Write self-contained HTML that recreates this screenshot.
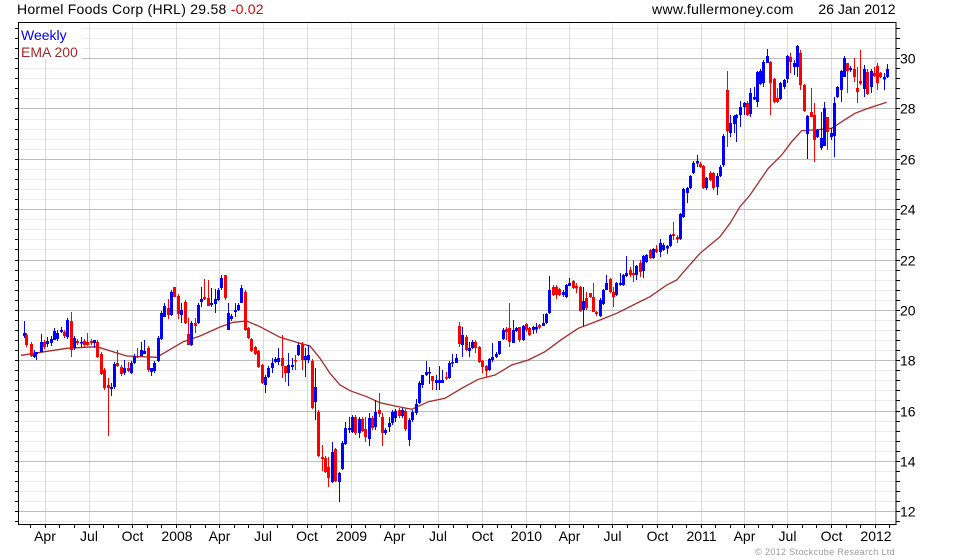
<!DOCTYPE html>
<html><head><meta charset="utf-8"><style>
html,body{margin:0;padding:0;background:#fff;}
svg{display:block;}
text{font-family:"Liberation Sans",Arial,sans-serif;}
</style></head><body>
<svg width="980" height="560" viewBox="0 0 980 560" xmlns="http://www.w3.org/2000/svg">
<rect x="0" y="0" width="980" height="560" fill="#fff"/>
<!-- minor horizontal grid -->
<path stroke="#ebebeb" stroke-width="1" shape-rendering="crispEdges" fill="none" d="M18 521.5H896M18 501.5H896M18 491.5H896M18 481.5H896M18 471.5H896M18 451.5H896M18 441.5H896M18 431.5H896M18 421.5H896M18 400.5H896M18 390.5H896M18 380.5H896M18 370.5H896M18 350.5H896M18 340.5H896M18 330.5H896M18 320.5H896M18 300.5H896M18 290.5H896M18 280.5H896M18 270.5H896M18 249.5H896M18 239.5H896M18 229.5H896M18 219.5H896M18 199.5H896M18 189.5H896M18 179.5H896M18 169.5H896M18 149.5H896M18 139.5H896M18 129.5H896M18 119.5H896M18 98.5H896M18 88.5H896M18 78.5H896M18 68.5H896M18 48.5H896M18 38.5H896M18 28.5H896"/>
<!-- vertical grid -->
<path stroke="#d9d9d9" stroke-width="1" shape-rendering="crispEdges" fill="none" d="M45.5 23V524M89.5 23V524M132.5 23V524M176.5 23V524M219.5 23V524M263.5 23V524M307.5 23V524M351.5 23V524M394.5 23V524M438.5 23V524M482.5 23V524M526.5 23V524M569.5 23V524M612.5 23V524M657.5 23V524M701.5 23V524M744.5 23V524M787.5 23V524M831.5 23V524M875.5 23V524"/>
<!-- major horizontal grid -->
<path stroke="#bdbdbd" stroke-width="1" shape-rendering="crispEdges" fill="none" d="M18 511.5H896M18 461.5H896M18 411.5H896M18 360.5H896M18 310.5H896M18 260.5H896M18 209.5H896M18 159.5H896M18 108.5H896M18 58.5H896"/>
<!-- legend box -->
<rect x="19" y="23" width="63" height="36" fill="#fff"/>
<!-- axis frame -->
<rect x="18.5" y="22.5" width="877.5" height="502" fill="none" stroke="#000" stroke-width="1" shape-rendering="crispEdges"/>
<!-- left ticks -->
<path stroke="#000" stroke-width="1" shape-rendering="crispEdges" fill="none" d="M15 521.5H18M15 511.5H18M15 501.5H18M15 491.5H18M15 481.5H18M15 471.5H18M15 461.5H18M15 451.5H18M15 441.5H18M15 431.5H18M15 421.5H18M15 411.5H18M15 400.5H18M15 390.5H18M15 380.5H18M15 370.5H18M15 360.5H18M15 350.5H18M15 340.5H18M15 330.5H18M15 320.5H18M15 310.5H18M15 300.5H18M15 290.5H18M15 280.5H18M15 270.5H18M15 260.5H18M15 249.5H18M15 239.5H18M15 229.5H18M15 219.5H18M15 209.5H18M15 199.5H18M15 189.5H18M15 179.5H18M15 169.5H18M15 159.5H18M15 149.5H18M15 139.5H18M15 129.5H18M15 119.5H18M15 108.5H18M15 98.5H18M15 88.5H18M15 78.5H18M15 68.5H18M15 58.5H18M15 48.5H18M15 38.5H18M15 28.5H18"/>
<!-- right ticks -->
<path stroke="#000" stroke-width="1" shape-rendering="crispEdges" fill="none" d="M896 521.5H900M896 511.5H900M896 501.5H900M896 491.5H900M896 481.5H900M896 471.5H900M896 461.5H900M896 451.5H900M896 441.5H900M896 431.5H900M896 421.5H900M896 411.5H900M896 400.5H900M896 390.5H900M896 380.5H900M896 370.5H900M896 360.5H900M896 350.5H900M896 340.5H900M896 330.5H900M896 320.5H900M896 310.5H900M896 300.5H900M896 290.5H900M896 280.5H900M896 270.5H900M896 260.5H900M896 249.5H900M896 239.5H900M896 229.5H900M896 219.5H900M896 209.5H900M896 199.5H900M896 189.5H900M896 179.5H900M896 169.5H900M896 159.5H900M896 149.5H900M896 139.5H900M896 129.5H900M896 119.5H900M896 108.5H900M896 98.5H900M896 88.5H900M896 78.5H900M896 68.5H900M896 58.5H900M896 48.5H900M896 38.5H900M896 28.5H900"/>
<!-- bottom month ticks -->
<path stroke="#000" stroke-width="1" shape-rendering="crispEdges" fill="none" d="M30.5 525V528M45.5 525V528M59.5 525V528M74.5 525V528M89.5 525V528M103.5 525V528M118.5 525V528M132.5 525V528M147.5 525V528M161.5 525V528M176.5 525V528M190.5 525V528M205.5 525V528M219.5 525V528M234.5 525V528M248.5 525V528M263.5 525V528M277.5 525V528M292.5 525V528M307.5 525V528M321.5 525V528M336.5 525V528M351.5 525V528M365.5 525V528M380.5 525V528M394.5 525V528M409.5 525V528M423.5 525V528M438.5 525V528M453.5 525V528M467.5 525V528M482.5 525V528M497.5 525V528M511.5 525V528M526.5 525V528M540.5 525V528M555.5 525V528M569.5 525V528M583.5 525V528M598.5 525V528M612.5 525V528M627.5 525V528M642.5 525V528M657.5 525V528M672.5 525V528M686.5 525V528M701.5 525V528M715.5 525V528M730.5 525V528M744.5 525V528M758.5 525V528M772.5 525V528M787.5 525V528M802.5 525V528M816.5 525V528M831.5 525V528M846.5 525V528M860.5 525V528M875.5 525V528M889.5 525V528"/>

<!-- EMA 200 -->
<polyline fill="none" stroke="#a52a2a" stroke-width="1.3" points="21,355.3 66.7,348.3 96.7,346.7 126.7,356 156.7,357.3 183.3,341.7 200,336 220,327 233.3,322.3 246.7,321 260,326.7 280,337.3 300,343.3 310,346 320,358.3 330,373.3 340,385 350,390.7 366.7,396.7 380,402.7 395,406 411.7,409.3 428.3,401.7 445,398.3 461.7,388.3 478.3,379.3 495,375 511.7,365 528.3,360 545,351.7 561.7,339.3 578.3,328.3 600,320 616.7,313.3 633.3,305 650,296.7 666.7,285 676.7,280 686.7,268.3 700,253.3 710,245 720,236.7 730,223.3 740,206.7 750,195 768.3,168.3 781.7,155 791.7,141.7 801.7,130.7 811.7,130 821.7,129.3 831.7,128.3 841.7,121.7 855,113.3 868.3,108.3 878.3,105 886.7,102.3"/>

<!-- blue wicks -->
<path stroke="#0000ff" stroke-width="1" fill="none" shape-rendering="crispEdges" d="M24.5 321V338M34.5 350V358M36.5 352V360M41.5 334V352M47.5 337V347M51.5 336V346M54.5 328V340M57.5 330V341M61.5 327V333M67.5 318V339M74.5 336V350M81.5 337V347M94.5 340V348M111.5 383V396M114.5 362V389M124.5 360V375M131.5 361V374M134.5 354V364M141.5 342V356M144.5 340V354M151.5 368V376M154.5 361V373M158.5 336V362M161.5 311V340M164.5 303V317M171.5 290V316M181.5 303V323M191.5 321V346M198.5 303V324M201.5 287V307M211.5 288V307M215.5 289V313M218.5 288V301M221.5 275V290M228.5 303V330M231.5 314V321M235.5 303V317M238.5 303V311M241.5 285V303M265.5 375V393M268.5 366V378M272.5 358V373M275.5 357V363M278.5 348V365M288.5 353V386M292.5 358V370M298.5 343V356M305.5 348V377M308.5 345V363M315.5 368V420M332.5 442V483M339.5 472V502M342.5 441V470M345.5 422V445M349.5 417V433M352.5 415V433M359.5 417V438M369.5 413V446M375.5 400V430M385.5 428V435M389.5 417V432M392.5 410V425M395.5 409V422M402.5 408V418M409.5 418V446M412.5 410V422M416.5 399V415M419.5 381V404M422.5 375V388M426.5 361V376M429.5 367V384M436.5 375V390M439.5 366V390M442.5 370V383M449.5 361V379M452.5 354V367M456.5 354V363M462.5 327V357M469.5 342V357M472.5 340V349M489.5 358V371M492.5 343V362M496.5 352V358M499.5 341V355M503.5 328V340M513.5 320V343M516.5 327V332M523.5 325V341M533.5 326V334M536.5 323V333M543.5 314V326M546.5 313V324M549.5 276V314M563.5 290V297M566.5 284V298M569.5 278V286M583.5 287V326M600.5 298V317M603.5 289V305M606.5 275V290M616.5 282V296M620.5 273V286M623.5 274V286M626.5 256V277M636.5 265V280M643.5 255V278M646.5 254V263M653.5 248V259M660.5 239V257M663.5 243V251M667.5 245V254M670.5 234V247M680.5 213V240M683.5 188V218M687.5 187V203M690.5 175V189M693.5 161V174M697.5 155V167M706.5 177V190M717.5 173V195M720.5 165V177M723.5 134V167M730.5 115V137M734.5 115V133M736.5 114V142M740.5 101V127M744.5 102V115M750.5 88V117M754.5 87V100M757.5 71V107M760.5 69V85M763.5 60V87M767.5 49V63M780.5 82V100M784.5 79V89M787.5 55V83M794.5 60V75M797.5 45V77M807.5 115V159M817.5 129V138M821.5 112V150M824.5 102V146M831.5 128V140M834.5 97V157M837.5 86V98M841.5 70V102M844.5 56V77M850.5 66V72M864.5 65V97M871.5 69V93M884.5 73V90M887.5 64V78"/>
<!-- red wicks -->
<path stroke="#ff0000" stroke-width="1" fill="none" shape-rendering="crispEdges" d="M26.5 333V347M31.5 342V357M44.5 340V349M64.5 330V338M71.5 312V357M77.5 339V345M84.5 339V347M87.5 333V346M91.5 339V345M97.5 340V358M101.5 352V375M104.5 368V390M108.5 378V436M117.5 350V367M121.5 365V376M128.5 362V372M137.5 348V358M148.5 346V372M168.5 299V319M174.5 287V297M178.5 294V319M185.5 300V324M188.5 318V345M195.5 318V333M204.5 279V300M208.5 280V306M225.5 275V300M245.5 290V331M248.5 327V339M251.5 338V352M255.5 346V355M258.5 350V368M262.5 364V384M282.5 335V378M285.5 366V382M295.5 355V370M302.5 342V370M312.5 359V409M318.5 410V457M322.5 445V471M325.5 456V473M328.5 457V487M335.5 448V482M355.5 415V435M362.5 417V432M365.5 417V442M372.5 416V430M379.5 393V417M382.5 413V446M399.5 408V418M405.5 409V431M432.5 376V390M446.5 372V380M459.5 322V347M466.5 335V351M475.5 340V353M479.5 346V363M482.5 360V373M486.5 365V377M506.5 327V340M509.5 303V347M519.5 327V342M526.5 323V332M529.5 327V336M539.5 324V329M553.5 285V296M556.5 285V299M559.5 288V296M573.5 280V289M576.5 283V293M580.5 286V312M586.5 292V310M590.5 293V298M593.5 283V312M596.5 311V316M610.5 278V293M613.5 287V307M630.5 267V277M633.5 260V282M640.5 260V277M650.5 249V259M656.5 245V253M673.5 222V240M677.5 235V243M700.5 162V168M703.5 165V189M710.5 171V181M713.5 172V190M727.5 71V147M747.5 101V116M770.5 61V115M774.5 78V103M777.5 88V103M790.5 53V73M800.5 50V90M804.5 84V112M811.5 88V117M814.5 103V162M827.5 117V150M847.5 63V93M854.5 58V82M857.5 67V103M860.5 50V85M867.5 69V95M874.5 67V77M877.5 63V90M880.5 72V78"/>
<!-- blue bodies -->
<path fill="#0000ff" shape-rendering="crispEdges" d="M23 333h3V336h-3zM33 354h3V357h-3zM35 352h3V354h-3zM40 342h3V352h-3zM46 341h3V344h-3zM50 339h3V343h-3zM53 331h3V340h-3zM56 333h3V339h-3zM60 330h3V332h-3zM66 320h3V337h-3zM73 338h3V348h-3zM80 342h3V343.5h-3zM93 340h3V343h-3zM110 387h3V389h-3zM113 364h3V387h-3zM123 368h3V373h-3zM130 363h3V373h-3zM133 356h3V363h-3zM140 350h3V356h-3zM143 351h3V354h-3zM150 368h3V372h-3zM153 363h3V371h-3zM157 338h3V361h-3zM160 313h3V339h-3zM163 306h3V317h-3zM170 292h3V315h-3zM180 310h3V315h-3zM190 323h3V345h-3zM197 305h3V323h-3zM200 299h3V302h-3zM210 303h3V305h-3zM214 299h3V304h-3zM217 290h3V300h-3zM220 278h3V288h-3zM227 313h3V330h-3zM230 316h3V319h-3zM234 310h3V312h-3zM237 305h3V310h-3zM240 288h3V303h-3zM264 377h3V385h-3zM267 368h3V377h-3zM271 363h3V368h-3zM274 359h3V362h-3zM277 358h3V362h-3zM287 365h3V373h-3zM291 365h3V367h-3zM297 345h3V355h-3zM304 356h3V360h-3zM307 355h3V360h-3zM314 387h3V402h-3zM331 452h3V482h-3zM338 473h3V482h-3zM341 443h3V469h-3zM344 428h3V444h-3zM348 428h3V430h-3zM351 417h3V432h-3zM358 419h3V433h-3zM368 418h3V439h-3zM374 412h3V427h-3zM384 430h3V433h-3zM388 423h3V427h-3zM391 412h3V423h-3zM394 411h3V418h-3zM401 410h3V416h-3zM408 420h3V440h-3zM411 412h3V420h-3zM415 404h3V413h-3zM418 383h3V403h-3zM421 375h3V385h-3zM425 372h3V375h-3zM428 372h3V373.5h-3zM435 380h3V383h-3zM438 380h3V383h-3zM441 380h3V383h-3zM448 363h3V378h-3zM451 362h3V363.5h-3zM455 358h3V363h-3zM461 335h3V345h-3zM468 348h3V351h-3zM471 342h3V348h-3zM488 359h3V370h-3zM491 357h3V360h-3zM495 354h3V357h-3zM498 341h3V354h-3zM502 330h3V339h-3zM512 330h3V343h-3zM515 328h3V331h-3zM522 326h3V340h-3zM532 327h3V330h-3zM535 327h3V329.5h-3zM542 323h3V326h-3zM545 314h3V323h-3zM548 290h3V313h-3zM562 292h3V295h-3zM565 285h3V297h-3zM568 283h3V286h-3zM582 301h3V310h-3zM599 300h3V316h-3zM602 290h3V304h-3zM605 283h3V290h-3zM615 283h3V295h-3zM619 283h3V285h-3zM622 275h3V285h-3zM625 273h3V276h-3zM635 266h3V275h-3zM642 256h3V271h-3zM645 255h3V262h-3zM652 249h3V258h-3zM659 243h3V252h-3zM662 245h3V250h-3zM666 246h3V248.5h-3zM669 235h3V246h-3zM679 214h3V239h-3zM682 189h3V217h-3zM686 188h3V193h-3zM689 176h3V188h-3zM692 163h3V173h-3zM696 161h3V163.5h-3zM705 178h3V188h-3zM716 176h3V187h-3zM719 167h3V176h-3zM722 136h3V165h-3zM729 123h3V133h-3zM733 116h3V124h-3zM735 115h3V118h-3zM739 107h3V115h-3zM743 103h3V107h-3zM749 93h3V114h-3zM753 97h3V99.5h-3zM756 72h3V102h-3zM759 71h3V84h-3zM762 62h3V83h-3zM766 56h3V63h-3zM779 83h3V99h-3zM783 80h3V87h-3zM786 56h3V79h-3zM793 63h3V67h-3zM796 46h3V67h-3zM806 116h3V134h-3zM816 130h3V137h-3zM820 138h3V148h-3zM823 108h3V146h-3zM830 133h3V137h-3zM833 103h3V136h-3zM836 87h3V97h-3zM840 71h3V90h-3zM843 58h3V77h-3zM849 68h3V70h-3zM863 69h3V89h-3zM870 71h3V87h-3zM883 77h3V79.5h-3zM886 69h3V77h-3z"/>
<!-- red bodies -->
<path fill="#ff0000" shape-rendering="crispEdges" d="M25 335h3V345h-3zM30 344h3V356h-3zM43 342h3V347h-3zM63 332h3V336h-3zM70 321h3V350h-3zM76 341h3V343h-3zM83 341h3V345h-3zM86 342h3V345h-3zM90 341h3V343h-3zM96 342h3V357h-3zM100 354h3V374h-3zM103 370h3V388h-3zM107 385h3V388h-3zM116 363h3V366h-3zM120 367h3V374h-3zM127 368h3V371h-3zM136 356.5h3V357.5h-3zM147 348h3V370h-3zM167 308h3V315h-3zM173 287h3V297h-3zM177 296h3V314h-3zM184 302h3V323h-3zM187 334h3V345h-3zM194 323h3V326h-3zM203 297h3V299.5h-3zM207 298h3V306h-3zM224 275h3V298h-3zM244 292h3V330h-3zM247 328h3V338h-3zM250 339h3V351h-3zM254 347h3V354h-3zM257 351h3V367h-3zM261 365h3V383h-3zM281 358h3V366h-3zM284 366h3V373h-3zM294 360h3V361.5h-3zM301 344h3V360h-3zM311 361h3V408h-3zM317 412h3V456h-3zM321 457h3V459h-3zM324 458h3V472h-3zM327 467h3V478h-3zM334 449h3V481h-3zM354 417h3V433h-3zM361 419h3V431h-3zM364 429h3V437h-3zM371 418h3V428h-3zM378 410h3V414h-3zM381 417h3V433h-3zM398 410h3V416h-3zM404 411h3V429h-3zM431 376h3V381h-3zM445 377h3V378.5h-3zM458 326h3V344h-3zM465 337h3V350h-3zM474 342h3V348h-3zM478 347h3V362h-3zM481 361h3V367h-3zM485 366h3V371h-3zM505 329h3V332h-3zM508 328h3V342h-3zM518 327h3V340h-3zM525 324h3V330h-3zM528 328h3V335h-3zM538 325h3V327.5h-3zM552 287h3V295h-3zM555 287h3V295h-3zM558 289h3V295h-3zM572 281h3V288h-3zM575 286h3V288.5h-3zM579 287h3V311h-3zM585 298h3V308h-3zM589 293h3V297h-3zM592 297h3V312h-3zM595 312h3V314h-3zM609 279h3V292h-3zM612 292h3V297h-3zM629 270h3V275h-3zM632 273h3V275h-3zM639 263h3V272h-3zM649 250h3V258h-3zM655 249h3V252h-3zM672 234h3V236h-3zM676 237h3V239.5h-3zM699 164h3V167h-3zM702 166h3V188h-3zM709 173h3V180h-3zM712 173h3V188h-3zM726 90h3V131h-3zM746 103h3V115h-3zM769 62h3V83h-3zM773 79h3V102h-3zM776 98h3V102h-3zM789 57h3V62h-3zM799 53h3V85h-3zM803 85h3V111h-3zM810 112h3V117h-3zM813 115h3V140h-3zM826 117h3V132h-3zM846 63h3V71h-3zM853 69h3V77h-3zM856 88h3V92h-3zM859 81h3V83.5h-3zM866 72h3V94h-3zM873 73h3V76h-3zM876 66h3V83h-3zM879 73h3V77h-3z"/>

<!-- title -->
<text x="17" y="14" font-size="14" letter-spacing="0.25" fill="#000">Hormel Foods Corp (HRL) 29.58 <tspan fill="#e00000">-0.02</tspan></text>
<text x="652" y="14" font-size="14" letter-spacing="0.35" fill="#000">www.fullermoney.com</text>
<text x="895.5" y="14" font-size="14" text-anchor="end" fill="#000">26 Jan 2012</text>
<!-- legend -->
<text x="21" y="40" font-size="14" fill="#0000ff">Weekly</text>
<text x="21" y="57" font-size="14" fill="#a52a2a">EMA 200</text>
<!-- right axis labels -->
<g font-size="14" fill="#000">
<text x="900" y="63.5">30</text>
<text x="900" y="113.5">28</text>
<text x="900" y="164.5">26</text>
<text x="900" y="214.5">24</text>
<text x="900" y="265.5">22</text>
<text x="900" y="315.5">20</text>
<text x="900" y="365.5">18</text>
<text x="900" y="416.5">16</text>
<text x="900" y="466.5">14</text>
<text x="900" y="516.5">12</text>
</g>
<!-- bottom axis labels -->
<g font-size="14" fill="#000" text-anchor="middle">
<text x="45" y="541">Apr</text>
<text x="89" y="541">Jul</text>
<text x="132.5" y="541">Oct</text>
<text x="177" y="541">2008</text>
<text x="219.5" y="541">Apr</text>
<text x="263" y="541">Jul</text>
<text x="307" y="541">Oct</text>
<text x="351.5" y="541">2009</text>
<text x="394.5" y="541">Apr</text>
<text x="438" y="541">Jul</text>
<text x="482.5" y="541">Oct</text>
<text x="526.5" y="541">2010</text>
<text x="569.5" y="541">Apr</text>
<text x="612.5" y="541">Jul</text>
<text x="657.5" y="541">Oct</text>
<text x="701.5" y="541">2011</text>
<text x="744.5" y="541">Apr</text>
<text x="787.5" y="541">Jul</text>
<text x="831.5" y="541">Oct</text>
<text x="876" y="541">2012</text>
</g>
<text x="895" y="555" font-size="9" letter-spacing="0.35" text-anchor="end" fill="#9a9a9a">© 2012 Stockcube Research Ltd</text>
</svg>
</body></html>
